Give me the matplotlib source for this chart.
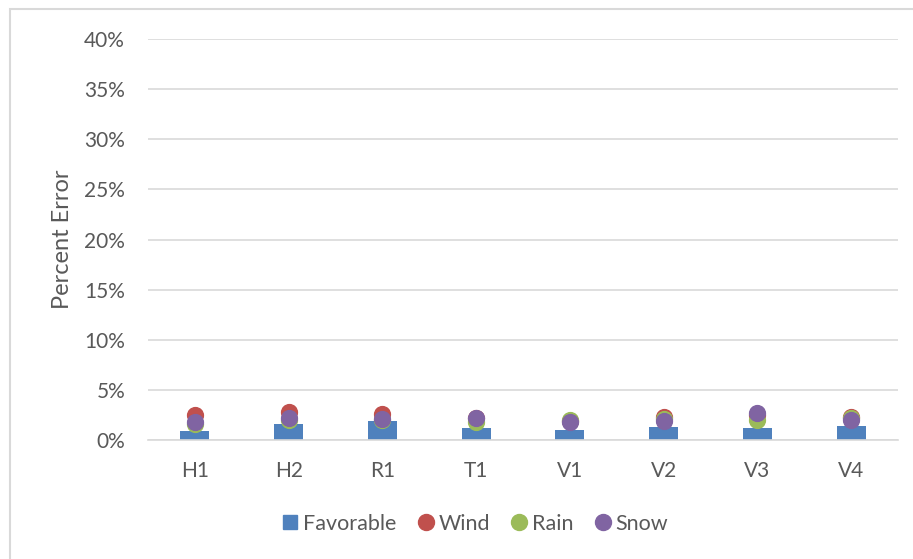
import matplotlib.pyplot as plt
from matplotlib.lines import Line2D
from matplotlib.patches import Rectangle
from matplotlib.ticker import PercentFormatter

sites = ['H1', 'H2', 'R1', 'T1', 'V1', 'V2', 'V3', 'V4']
favorable = [0.9, 1.55, 1.85, 1.15, 0.95, 1.3, 1.15, 1.4]
wind = [2.5, 2.8, 2.6, 2.2, 1.9, 2.3, 2.5, 2.3]
rain = [1.6, 2.0, 2.0, 1.8, 2.0, 2.1, 2.0, 2.2]
snow = [1.8, 2.2, 2.05, 2.2, 1.8, 1.9, 2.7, 2.0]

colors = {'Favorable': '#4F81BD', 'Wind': '#C0504D', 'Rain': '#9BBB59', 'Snow': '#8064A2'}
text_color = '#595959'
plt.rcParams['font.family'] = ['Lato', 'DejaVu Sans']
plt.rcParams['font.size'] = 15

fig = plt.figure(figsize=(9.13, 5.59), dpi=100)
ax = fig.add_axes([148 / 913, 1 - 440 / 559, 750 / 913, 401 / 559])

x = list(range(len(sites)))
ax.bar(x, favorable, width=0.31, color=colors['Favorable'], zorder=2)
ax.scatter(x, wind, s=130, color=colors['Wind'], zorder=3)
ax.scatter(x, rain, s=130, color=colors['Rain'], zorder=4)
ax.scatter(x, snow, s=130, color=colors['Snow'], zorder=5)

ax.set_xlim(-0.5, len(sites) - 0.5)
ax.set_ylim(0, 40)
ax.set_yticks(range(0, 41, 5))
ax.yaxis.set_major_formatter(PercentFormatter(decimals=0))
ax.set_xticks(x)
ax.set_xticklabels(sites)
ax.grid(axis='y', color='#D9D9D9', linewidth=1.2, zorder=0)
for side in ['left', 'right', 'top']:
    ax.spines[side].set_visible(False)
ax.spines['bottom'].set_color('#D9D9D9')
ax.spines['bottom'].set_linewidth(1.2)
ax.tick_params(length=0, colors=text_color)
ax.tick_params(axis='y', pad=16.5)
ax.tick_params(axis='x', pad=15)
ax.set_ylabel('Percent Error', color=text_color, fontsize=17, labelpad=8)

handles = [Line2D([], [], linestyle='none', marker='s', markersize=10,
                  color=colors['Favorable'])]
handles += [Line2D([], [], linestyle='none', marker='o', markersize=11.5,
                   color=colors[k]) for k in ['Wind', 'Rain', 'Snow']]
leg = fig.legend(handles, list(colors), loc='center',
                 bbox_to_anchor=(474 / 913, 1 - 524 / 559), ncol=4,
                 frameon=False, handletextpad=0.1, columnspacing=0.85,
                 handlelength=1.0, fontsize=15.5)
for t in leg.get_texts():
    t.set_color(text_color)

# chart frame
fig.patches.append(Rectangle((10 / 913, -0.1), 1.2, 1 - 9 / 559 + 0.1,
                             transform=fig.transFigure, fill=False,
                             edgecolor='#D9D9D9', linewidth=1.5))

fig.savefig('out.png', dpi=100)
